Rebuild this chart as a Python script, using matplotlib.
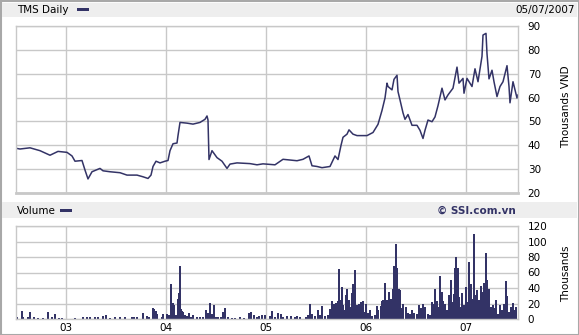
import matplotlib
matplotlib.use('Agg')
import matplotlib.pyplot as plt
from matplotlib.patches import Rectangle

navy = '#333366'
grid = '#c8c8c8'

# price (thousands VND), x in decimal years
price_t = [2002.50, 2002.54, 2002.64, 2002.74, 2002.84, 2002.92, 2003.01, 2003.06, 2003.09, 2003.16,
           2003.19, 2003.22, 2003.26, 2003.34, 2003.37, 2003.44, 2003.54, 2003.61, 2003.71, 2003.77,
           2003.82, 2003.85, 2003.87, 2003.90, 2003.94, 2003.99, 2004.02, 2004.04, 2004.07, 2004.11,
           2004.12, 2004.14, 2004.21, 2004.27, 2004.34, 2004.39, 2004.41, 2004.42, 2004.43, 2004.46,
           2004.51, 2004.56, 2004.61, 2004.64, 2004.71, 2004.84, 2004.91, 2004.97, 2005.09, 2005.17,
           2005.31, 2005.37, 2005.43, 2005.46, 2005.51, 2005.56, 2005.64, 2005.69, 2005.72, 2005.75,
           2005.77, 2005.81, 2005.83, 2005.87, 2005.91, 2006.01, 2006.07, 2006.12, 2006.16, 2006.19,
           2006.21, 2006.22, 2006.26, 2006.28, 2006.31, 2006.32, 2006.34, 2006.37, 2006.39, 2006.42,
           2006.46, 2006.51, 2006.54, 2006.57, 2006.59, 2006.62, 2006.66, 2006.69, 2006.72, 2006.76,
           2006.79, 2006.82, 2006.87, 2006.91, 2006.93, 2006.97, 2006.98, 2007.01, 2007.06, 2007.09,
           2007.12, 2007.16, 2007.17, 2007.20, 2007.21, 2007.23, 2007.26, 2007.28, 2007.31, 2007.34,
           2007.37, 2007.41, 2007.43, 2007.44, 2007.47, 2007.49, 2007.51, 2007.52]
price = [38.8, 38.5, 39.0, 37.8, 35.9, 37.5, 37.1, 35.6, 33.4, 33.7,
         29.7, 26.0, 29.0, 30.4, 29.4, 29.0, 28.6, 27.6, 27.6, 26.9,
         26.2, 27.6, 31.2, 33.4, 32.7, 33.4, 33.7, 37.8, 40.7, 41.0,
         44.1, 49.6, 49.3, 48.9, 49.6, 50.9, 52.3, 50.6, 34.1, 37.8,
         34.9, 33.4, 30.4, 32.2, 32.7, 32.4, 31.9, 32.3, 31.9, 34.2,
         33.6, 34.2, 35.6, 31.5, 31.2, 30.7, 31.2, 35.6, 34.1, 40.0,
         43.4, 44.7, 46.5, 44.7, 44.1, 44.1, 45.4, 48.8, 54.6, 59.8,
         66.0, 64.6, 63.2, 67.6, 69.3, 62.5, 59.0, 53.6, 50.9, 52.9,
         48.4, 48.4, 46.3, 42.9, 46.3, 50.6, 49.9, 51.9, 56.6, 63.9,
         59.0, 61.1, 63.9, 72.7, 66.0, 68.0, 61.8, 68.0, 64.6, 72.0,
         66.6, 77.2, 86.1, 86.8, 78.3, 67.8, 71.4, 66.6, 60.4, 64.6,
         66.6, 73.3, 64.6, 57.8, 66.6, 63.2, 59.8, 61.1]

# volume (thousands)
vol_t = [2002.49, 2002.51, 2002.56, 2002.57, 2002.62, 2002.64, 2002.68, 2002.72, 2002.77, 2002.82,
         2002.86, 2002.89, 2002.93, 2002.96, 2003.09, 2003.17, 2003.21, 2003.24, 2003.29, 2003.32,
         2003.37, 2003.40, 2003.44, 2003.49, 2003.54, 2003.59, 2003.66, 2003.68, 2003.71, 2003.77,
         2003.81, 2003.83, 2003.87, 2003.88, 2003.90, 2003.91, 2003.96, 2003.97, 2004.01, 2004.03,
         2004.05, 2004.07, 2004.08, 2004.10, 2004.12, 2004.13, 2004.14, 2004.15, 2004.16, 2004.17,
         2004.19, 2004.21, 2004.23, 2004.25, 2004.27, 2004.31, 2004.34, 2004.37, 2004.40, 2004.41,
         2004.43, 2004.44, 2004.46, 2004.48, 2004.50, 2004.52, 2004.55, 2004.57, 2004.58, 2004.59,
         2004.62, 2004.66, 2004.69, 2004.74, 2004.78, 2004.83, 2004.85, 2004.88, 2004.91, 2004.93,
         2004.96, 2004.99, 2005.04, 2005.06, 2005.09, 2005.12, 2005.15, 2005.17, 2005.21, 2005.25,
         2005.29, 2005.31, 2005.34, 2005.40, 2005.42, 2005.44, 2005.46, 2005.49, 2005.52, 2005.54,
         2005.56, 2005.59, 2005.62, 2005.64, 2005.66, 2005.68, 2005.70, 2005.72, 2005.73, 2005.75,
         2005.76, 2005.77, 2005.79, 2005.80, 2005.81, 2005.83, 2005.84, 2005.86, 2005.87, 2005.88,
         2005.89, 2005.91, 2005.93, 2005.95, 2005.97, 2005.98, 2006.00, 2006.02, 2006.04, 2006.06,
         2006.09, 2006.11, 2006.12, 2006.15, 2006.16, 2006.17, 2006.19, 2006.21, 2006.23, 2006.25,
         2006.27, 2006.28, 2006.29, 2006.30, 2006.31, 2006.33, 2006.34, 2006.36, 2006.37, 2006.40,
         2006.42, 2006.44, 2006.46, 2006.48, 2006.51, 2006.53, 2006.55, 2006.57, 2006.59, 2006.62,
         2006.64, 2006.66, 2006.67, 2006.69, 2006.71, 2006.72, 2006.74, 2006.76, 2006.77, 2006.79,
         2006.81, 2006.83, 2006.85, 2006.87, 2006.88, 2006.89, 2006.90, 2006.92, 2006.93, 2006.95,
         2006.96, 2006.98, 2007.00, 2007.01, 2007.03, 2007.05, 2007.06, 2007.08, 2007.09, 2007.11,
         2007.13, 2007.15, 2007.17, 2007.18, 2007.20, 2007.21, 2007.23, 2007.25, 2007.27, 2007.28,
         2007.30, 2007.32, 2007.34, 2007.36, 2007.38, 2007.40, 2007.41, 2007.43, 2007.45, 2007.47,
         2007.48, 2007.50]
volume = [9, 2.6, 10, 3, 2.6, 9, 3, 1, 1, 9,
          2, 6.5, 1, 1, 1, 3, 2, 2, 2, 2,
          3.5, 5, 1, 2, 2, 2.6, 2, 2.6, 2, 7.3,
          3.4, 2, 14, 13, 10, 7, 2.6, 6, 6, 5,
          45, 20.6, 18, 5, 26, 33.5, 68, 12.5, 10, 9,
          5, 3.4, 7.7, 2.6, 5, 2, 2, 2.6, 11.6, 7.7,
          8, 20.6, 6.5, 17.6, 2, 2, 2, 9, 7, 14,
          2, 1, 1, 2, 1, 8, 9, 5.6, 3, 4.3,
          5, 5, 4, 10, 2.6, 8, 6.5, 2.6, 3.4, 3.4,
          2, 4.3, 2, 3, 5.6, 19, 7, 3.4, 11.6, 5,
          16.3, 3.4, 5, 12.5, 23, 20, 20.6, 23.6, 64, 25,
          41, 18.5, 12, 31.4, 39, 24, 15.5, 33.5, 44.7, 23,
          62.8, 17.6, 20, 22, 23, 9, 20, 8, 11, 3.4,
          5, 17, 11, 16.8, 23, 25, 46, 24, 35, 26,
          39, 68, 56, 97, 66, 39, 37, 14, 20, 15,
          8, 7, 11, 8, 6.5, 17.6, 14, 20, 15, 6.5,
          5, 22, 20, 39, 23.6, 15.5, 55.5, 35, 23.6, 20,
          11, 31.4, 50, 22, 32.7, 66, 80, 66, 28.4, 15.5,
          34, 17.6, 41, 22, 73.5, 45.6, 26, 110, 30.5, 37,
          25, 43, 35, 47, 85, 50, 39, 15.5, 18.5, 14,
          25, 6.5, 17.6, 11, 20, 49, 29.7, 9, 15.5, 20.6,
          11, 15]

years = [2003, 2004, 2005, 2006, 2007]
year_labels = ['03', '04', '05', '06', '07']
price_ticks = [20, 30, 40, 50, 60, 70, 80, 90]
vol_ticks = [0, 20, 40, 60, 80, 100, 120]

W, H = 579, 335
fig = plt.figure(figsize=(W / 100, H / 100), dpi=100)
fig.patch.set_facecolor('white')

def px_rect(x0, y0, x1, y1, **kw):
    # pixel box (top-left origin) -> figure fraction
    return Rectangle((x0 / W, 1 - y1 / H), (x1 - x0) / W, (y1 - y0) / H,
                     transform=fig.transFigure, **kw)

fig.patches.append(px_rect(0.5, 0.5, 578.5, 334.5, facecolor='none', edgecolor='#a8a8a8', lw=1.5))
fig.patches.append(px_rect(2, 3, 577, 17, facecolor='#eeeeee', edgecolor='none'))
fig.patches.append(px_rect(2, 202, 577, 218, facecolor='#eeeeee', edgecolor='none'))

ax1 = fig.add_axes([16 / W, 1 - 193.3 / H, 502 / W, 167.6 / H])
ax2 = fig.add_axes([16 / W, 1 - 319 / H, 502 / W, 93 / H])

ax1.plot(price_t, price, color=navy, lw=1.1)
ax2.bar(vol_t, volume, width=0.019, color=navy, linewidth=0)

for ax in (ax1, ax2):
    ax.set_xlim(2002.5, 2007.52)
    ax.set_xticks(years)
    ax.grid(True, color=grid, lw=1.0)
    ax.set_axisbelow(True)
    for s in ax.spines.values():
        s.set_color(grid)
        s.set_linewidth(1.0)
    ax.yaxis.tick_right()
    ax.tick_params(length=0, labelsize=7.5, colors='black', pad=7)

ax1.set_ylim(20, 90)
ax1.set_yticks(price_ticks)
ax1.set_xticklabels([])
ax1.spines['bottom'].set_linewidth(2)

ax2.set_ylim(0, 120)
ax2.set_yticks(vol_ticks)
ax2.set_xticklabels(year_labels)
ax2.tick_params(axis='x', pad=3)

fig.text(17 / W, 1 - 10 / H, 'TMS Daily', fontsize=7.5, va='center', ha='left')
fig.patches.append(px_rect(77, 8, 89, 11, facecolor=navy, edgecolor='none'))
fig.text(575 / W, 1 - 10 / H, '05/07/2007', fontsize=7.5, va='center', ha='right')

fig.text(17 / W, 1 - 211 / H, 'Volume', fontsize=7.5, va='center', ha='left')
fig.patches.append(px_rect(60, 209, 72, 212, facecolor=navy, edgecolor='none'))
fig.text(516 / W, 1 - 211 / H, '\u00a9 SSI.com.vn', fontsize=7.5, fontweight='bold',
         color=navy, va='center', ha='right')

fig.text(566 / W, 1 - 107 / H, 'Thousands VND', fontsize=7.5, rotation=90, va='center', ha='center')
fig.text(566 / W, 1 - 274 / H, 'Thousands', fontsize=7.5, rotation=90, va='center', ha='center')

fig.savefig('out.png', dpi=100)
